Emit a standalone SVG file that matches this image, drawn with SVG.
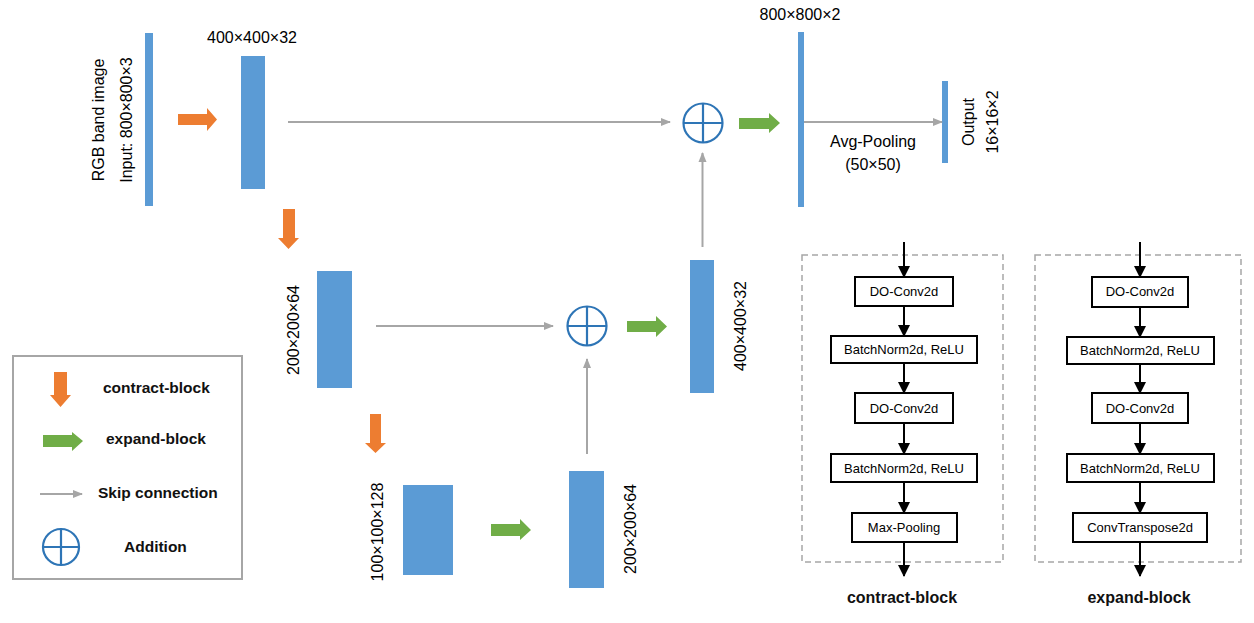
<svg xmlns="http://www.w3.org/2000/svg" width="1254" height="623" viewBox="0 0 1254 623">
<style>
.bar{fill:#5b9bd5}
.org{fill:#ed7d31}
.grn{fill:#70ad47}
.skip{stroke:#a6a6a6;stroke-width:2;fill:none}
.add{stroke:#2e75b6;stroke-width:2.2;fill:none}
.lbl{font-family:"Liberation Sans",Arial,sans-serif;font-size:16px;fill:#000}
.rot{font-family:"Liberation Sans",Arial,sans-serif;font-size:16px;fill:#000;text-anchor:middle}
.leg{font-family:"Liberation Sans",Arial,sans-serif;font-size:15.5px;font-weight:bold;fill:#111}
.ttl{font-family:"Liberation Sans",Arial,sans-serif;font-size:16px;font-weight:bold;fill:#111;text-anchor:middle}
.box{fill:#fff;stroke:#000;stroke-width:2}
.btx{font-family:"Liberation Sans",Arial,sans-serif;font-size:13px;fill:#000;text-anchor:middle}
.blk{stroke:#000;stroke-width:2;fill:none}
.dash{fill:none;stroke:#a6a6a6;stroke-width:1.5;stroke-dasharray:6 4}
</style>
<defs>
<marker id="ag" markerWidth="10" markerHeight="10" refX="9" refY="5" orient="auto" markerUnits="userSpaceOnUse">
<path d="M0,1 L10,5 L0,9 Z" fill="#a6a6a6"/>
</marker>
<marker id="ab" markerWidth="12" markerHeight="12" refX="11" refY="6" orient="auto" markerUnits="userSpaceOnUse">
<path d="M0,0 L12,6 L0,12 Z" fill="#000"/>
</marker>
<g id="plus">
<circle cx="0" cy="0" r="19.5" class="add"/>
<line x1="-19.5" y1="0" x2="19.5" y2="0" class="add"/>
<line x1="0" y1="-19.5" x2="0" y2="19.5" class="add"/>
</g>
</defs>
<rect width="1254" height="623" fill="#fff"/>

<!-- feature map nodes -->
<g id="input">
<rect class="bar" x="145" y="33" width="8" height="173"/>
<text class="rot" transform="translate(98,120) rotate(-90)" dy="0.36em">RGB band image</text>
<text class="rot" transform="translate(126,120) rotate(-90)" dy="0.36em">Input: 800×800×3</text>
</g>
<g id="enc1">
<rect class="bar" x="241" y="56" width="24" height="133"/>
<text class="lbl" x="252" y="43" text-anchor="middle">400×400×32</text>
</g>
<g id="enc2">
<rect class="bar" x="317" y="271" width="35" height="117"/>
<text class="rot" transform="translate(293,330) rotate(-90)" dy="0.36em">200×200×64</text>
</g>
<g id="enc3">
<rect class="bar" x="403" y="485" width="50" height="90"/>
<text class="rot" transform="translate(377,532) rotate(-90)" dy="0.36em">100×100×128</text>
</g>
<g id="dec3">
<rect class="bar" x="569" y="471" width="35" height="117"/>
<text class="rot" transform="translate(630,529) rotate(-90)" dy="0.36em">200×200×64</text>
</g>
<g id="dec2">
<rect class="bar" x="690" y="260" width="24" height="133"/>
<text class="rot" transform="translate(740,326) rotate(-90)" dy="0.36em">400×400×32</text>
</g>
<g id="dec1">
<rect class="bar" x="798" y="32" width="6" height="175"/>
<text class="lbl" x="800" y="20" text-anchor="middle">800×800×2</text>
</g>
<g id="output">
<rect class="bar" x="942" y="81" width="6" height="82"/>
<text class="rot" transform="translate(968,122) rotate(-90)" dy="0.36em">Output</text>
<text class="rot" transform="translate(992,122) rotate(-90)" dy="0.36em">16×16×2</text>
</g>
<g id="add1"><use href="#plus" x="703" y="123"/></g>
<g id="add2"><use href="#plus" x="587" y="326"/></g>

<!-- connectors -->
<g id="connectors">
<polygon class="org" points="178,114 207,114 207,108 217,119.5 207,131 207,125 178,125"/>
<polygon class="org" points="283,209 295,209 295,238 299,238 288.5,249 278,238 283,238"/>
<polygon class="org" points="370,414 381,414 381,443 386,443 375.5,453 365,443 370,443"/>
<polygon class="grn" points="491,524 520,524 520,519 531,530 520,540 520,536 491,536"/>
<polygon class="grn" points="627,321 656,321 656,316 667,326.5 656,337 656,332 627,332"/>
<polygon class="grn" points="739,118 769,118 769,113 780,123 769,133 769,129 739,129"/>
<line class="skip" x1="288" y1="122" x2="670" y2="122" marker-end="url(#ag)"/>
<line class="skip" x1="376" y1="326" x2="553" y2="326" marker-end="url(#ag)"/>
<line class="skip" x1="587" y1="454" x2="587" y2="359" marker-end="url(#ag)"/>
<line class="skip" x1="702.5" y1="247" x2="702.5" y2="153" marker-end="url(#ag)"/>
<line class="skip" x1="804" y1="122" x2="942" y2="122" marker-end="url(#ag)"/>
<text class="lbl" x="873" y="147" text-anchor="middle">Avg-Pooling</text>
<text class="lbl" x="873" y="170" text-anchor="middle">(50×50)</text>
</g>

<!-- legend -->
<g id="legend">
<rect x="13" y="356" width="229" height="223" fill="none" stroke="#a6a6a6" stroke-width="2"/>
<polygon class="org" points="54,372 67,372 67,395 71,395 60.5,407 50,395 54,395"/>
<text class="leg" x="103" y="393">contract-block</text>
<polygon class="grn" points="43,435 72,435 72,432 83,441 72,451 72,447 43,447"/>
<text class="leg" x="106" y="444">expand-block</text>
<line class="skip" x1="40" y1="494" x2="82" y2="494" marker-end="url(#ag)"/>
<text class="leg" x="98" y="498">Skip connection</text>
<g transform="translate(61,547)">
<circle r="18" class="add"/>
<line x1="-18" y1="0" x2="18" y2="0" class="add"/>
<line x1="0" y1="-18" x2="0" y2="18" class="add"/>
</g>
<text class="leg" x="124" y="552">Addition</text>
</g>

<!-- contract block detail -->
<g id="contract-block">
<rect class="dash" x="802" y="255" width="201" height="307"/>
<line class="blk" x1="904" y1="242" x2="904" y2="277" marker-end="url(#ab)"/>
<rect class="box" x="855" y="277" width="98" height="29"/>
<text class="btx" x="904" y="296">DO-Conv2d</text>
<line class="blk" x1="904" y1="306" x2="904" y2="336" marker-end="url(#ab)"/>
<rect class="box" x="831" y="336" width="146" height="27"/>
<text class="btx" x="904" y="354">BatchNorm2d, ReLU</text>
<line class="blk" x1="904" y1="363" x2="904" y2="393" marker-end="url(#ab)"/>
<rect class="box" x="855" y="393" width="98" height="30"/>
<text class="btx" x="904" y="413">DO-Conv2d</text>
<line class="blk" x1="904" y1="423" x2="904" y2="454" marker-end="url(#ab)"/>
<rect class="box" x="831" y="454" width="146" height="28"/>
<text class="btx" x="904" y="473">BatchNorm2d, ReLU</text>
<line class="blk" x1="904" y1="482" x2="904" y2="513" marker-end="url(#ab)"/>
<rect class="box" x="852" y="513" width="105" height="29"/>
<text class="btx" x="904" y="532">Max-Pooling</text>
<line class="blk" x1="904" y1="542" x2="904" y2="576" marker-end="url(#ab)"/>
<text class="ttl" x="902" y="603">contract-block</text>
</g>

<!-- expand block detail -->
<g id="expand-block">
<rect class="dash" x="1035" y="255" width="206" height="307"/>
<line class="blk" x1="1140" y1="242" x2="1140" y2="277" marker-end="url(#ab)"/>
<rect class="box" x="1092" y="277" width="96" height="30"/>
<text class="btx" x="1140" y="296">DO-Conv2d</text>
<line class="blk" x1="1140" y1="307" x2="1140" y2="337" marker-end="url(#ab)"/>
<rect class="box" x="1067" y="337" width="147" height="27"/>
<text class="btx" x="1140" y="355">BatchNorm2d, ReLU</text>
<line class="blk" x1="1140" y1="364" x2="1140" y2="393" marker-end="url(#ab)"/>
<rect class="box" x="1092" y="393" width="96" height="30"/>
<text class="btx" x="1140" y="413">DO-Conv2d</text>
<line class="blk" x1="1140" y1="423" x2="1140" y2="454" marker-end="url(#ab)"/>
<rect class="box" x="1067" y="454" width="147" height="28"/>
<text class="btx" x="1140" y="473">BatchNorm2d, ReLU</text>
<line class="blk" x1="1140" y1="482" x2="1140" y2="513" marker-end="url(#ab)"/>
<rect class="box" x="1073" y="513" width="134" height="29"/>
<text class="btx" x="1140" y="532">ConvTranspose2d</text>
<line class="blk" x1="1140" y1="542" x2="1140" y2="576" marker-end="url(#ab)"/>
<text class="ttl" x="1139" y="603">expand-block</text>
</g>
</svg>
